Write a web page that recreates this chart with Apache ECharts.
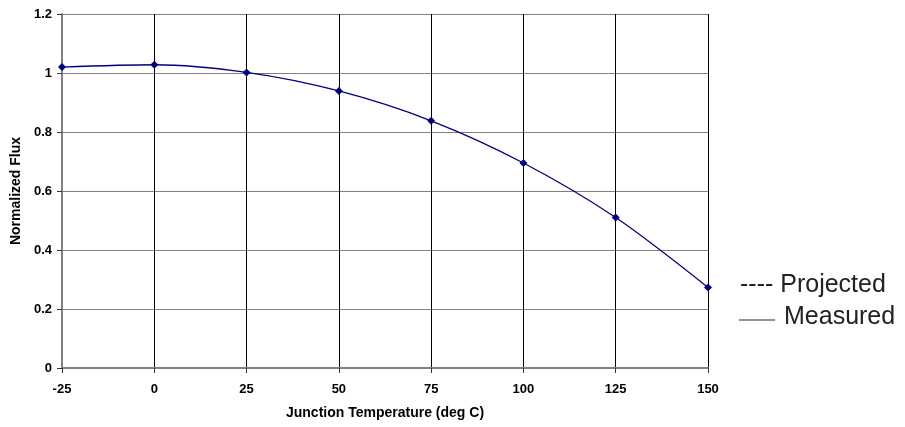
<!DOCTYPE html>
<html><head><meta charset="utf-8">
<script src="https://cdn.jsdelivr.net/npm/echarts@6/dist/echarts.min.js"></script>
<style>html,body{margin:0;padding:0;background:#fff}#c{width:905px;height:427px}</style>
</head><body><div id="c"></div>
<script>
const temperatures = [-25, 0, 25, 50, 75, 100, 125, 150];
const measuredFlux = [1.02, 1.028, 1.002, 0.939, 0.838, 0.695, 0.51, 0.273];
const xTicks = [-25, 0, 25, 50, 75, 100, 125, 150];
const yTicks = [0, 0.2, 0.4, 0.6, 0.8, 1, 1.2];
const legendLabels = ['Projected', 'Measured'];

const chart = echarts.init(document.getElementById('c'));
const font = 'Arial, "Liberation Sans", sans-serif';
chart.setOption({
  animation: false,
  grid: {left: 62, right: 197, top: 14, bottom: 59, show: false, containLabel: false, outerBoundsMode: 'none'},
  xAxis: {
    type: 'value', min: xTicks[0], max: xTicks[xTicks.length-1], interval: 25,
    name: 'Junction Temperature (deg C)', nameLocation: 'middle', nameGap: 38,
    nameTextStyle: {fontFamily: font, fontWeight: 'bold', fontSize: 14, color: '#000'},
    axisLine: {onZero: false, lineStyle: {color: '#808080', width: 2}},
    axisTick: {show: true, length: 5, lineStyle: {color: '#333'}},
    axisLabel: {fontFamily: font, fontWeight: 'bold', fontSize: 13, color: '#000', margin: 15},
    splitLine: {show: true, lineStyle: {color: '#000', width: 1}}
  },
  yAxis: {
    type: 'value', min: yTicks[0], max: yTicks[yTicks.length-1], interval: 0.2,
    name: 'Normalized Flux', nameLocation: 'middle', nameGap: 38,
    nameTextStyle: {fontFamily: font, fontWeight: 'bold', fontSize: 14, color: '#000'},
    axisLine: {show: true, onZero: false, lineStyle: {color: '#808080', width: 2}},
    axisTick: {show: true, length: 5, lineStyle: {color: '#333'}},
    axisLabel: {fontFamily: font, fontWeight: 'bold', fontSize: 13, color: '#000', margin: 10,
      formatter: v => String(Math.round(v*10)/10)},
    splitLine: {show: true, lineStyle: {color: '#808080', width: 1}}
  },
  series: [{
    name: legendLabels[1], type: 'line', smooth: 0.3,
    data: temperatures.map((t, i) => [t, measuredFlux[i]]),
    symbol: 'diamond', symbolSize: 8,
    itemStyle: {color: '#000080'},
    lineStyle: {color: '#000080', width: 1.3}
  }],
  graphic: [
    {type: 'text', left: 740, top: 273, style: {text: '---- ' + legendLabels[0], font: '25px Arial, "Liberation Sans", sans-serif', fill: '#222'}},
    {type: 'line', shape: {x1: 739, y1: 320, x2: 775, y2: 320}, style: {stroke: '#222', lineWidth: 1}},
    {type: 'text', left: 784, top: 305, style: {text: legendLabels[1], font: '25px Arial, "Liberation Sans", sans-serif', fill: '#222'}}
  ]
});
</script></body></html>
